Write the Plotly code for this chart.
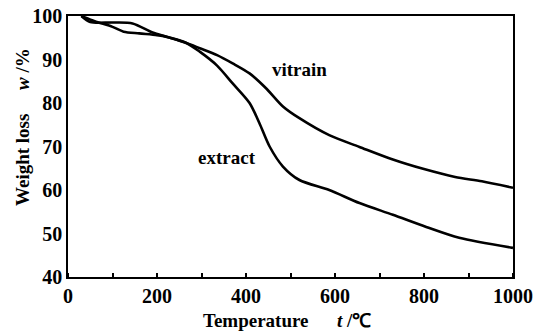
import plotly.graph_objects as go

vitrain_T = [30, 50, 100, 145, 190, 222, 266, 296, 335, 370, 408, 445, 483, 520, 587, 655, 730, 800, 870, 930, 1000]
vitrain_w = [100, 98.6, 98.5, 98.3, 96.2, 95.2, 93.8, 92.6, 91.0, 89.1, 86.8, 83.4, 79.2, 76.5, 72.6, 69.9, 67.0, 64.8, 63.0, 62.0, 60.5]

extract_T = [30, 60, 100, 125, 160, 200, 222, 266, 296, 335, 370, 408, 430, 453, 483, 520, 587, 655, 730, 805, 879, 1000]
extract_w = [100, 98.8, 97.5, 96.4, 96.0, 95.6, 95.2, 93.8, 91.8, 88.6, 84.5, 80.0, 75.4, 70.0, 65.4, 62.3, 60.0, 57.0, 54.3, 51.5, 49.0, 46.7]

x_ticks = [0, 200, 400, 600, 800, 1000]
y_ticks = [40, 50, 60, 70, 80, 90, 100]

FONT = "Liberation Serif"

L, R, T, B = 68, 23, 16, 57
W, H = 536, 334
PW, PH = W - L - R, H - T - B

fig = go.Figure()
fig.add_trace(go.Scatter(x=vitrain_T, y=vitrain_w, mode="lines", name="vitrain",
                         line=dict(color="black", width=2.6, shape="spline", smoothing=0.8)))
fig.add_trace(go.Scatter(x=extract_T, y=extract_w, mode="lines", name="extract",
                         line=dict(color="black", width=2.6, shape="spline", smoothing=0.8)))

sp = "&nbsp;" * 6
fig.update_layout(
    width=W, height=H,
    margin=dict(l=L, r=R, t=T, b=B, autoexpand=False),
    paper_bgcolor="white", plot_bgcolor="white",
    showlegend=False,
    font=dict(family=FONT, size=19, color="black"),
    xaxis=dict(range=[0, 1000], tickvals=x_ticks, showgrid=False, zeroline=False,
               showline=True, linecolor="black", linewidth=1.5, mirror=True,
               ticks="", tickfont=dict(family=FONT, size=20, weight="bold"),
               minor=dict(dtick=100, ticks="inside", ticklen=4, tickcolor="black", tickwidth=1.5)),
    yaxis=dict(range=[40, 100], tickvals=y_ticks, showgrid=False, zeroline=False,
               showline=True, linecolor="black", linewidth=1.5, mirror=True,
               ticks="", tickfont=dict(family=FONT, size=20, weight="bold")),
    annotations=[
        dict(text="vitrain", x=520, y=87.6, xref="x", yref="y", showarrow=False,
             font=dict(family=FONT, size=19, weight="bold")),
        dict(text="extract", x=358, y=67.4, xref="x", yref="y", showarrow=False,
             font=dict(family=FONT, size=19, weight="bold")),
        dict(text="Temperature" + sp + "<i>t</i> /℃",
             x=(287 - L) / PW, y=-(320 - (T + PH)) / PH, xanchor="center", yanchor="middle",
             xref="paper", yref="paper", showarrow=False,
             font=dict(family=FONT, size=19, weight="bold")),
        dict(text="Weight loss" + "&nbsp;" * 5 + "<i>w</i> /%",
             x=-(L - 22) / PW, y=(T + PH - 127) / PH, xanchor="center", yanchor="middle",
             xref="paper", yref="paper", showarrow=False, textangle=-90,
             font=dict(family=FONT, size=19, weight="bold")),
    ],
)

fig.write_html("out.html", config={"displayModeBar": False},
               post_script="document.body.style.margin='0';")
